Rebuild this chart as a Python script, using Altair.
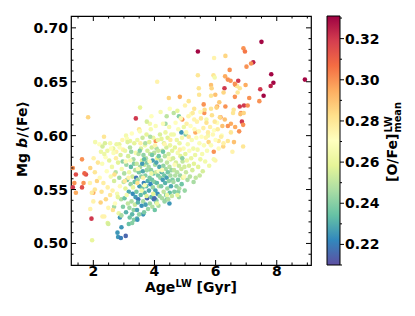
import altair as alt
import pandas as pd

# ---- data: (Age_LW [Gyr], Mgb/<Fe>, [O/Fe]_mean) ----
pts_old_red = [
    (5.42, 0.678, 0.330), (7.50, 0.687, 0.330), (8.92, 0.652, 0.330), (6.91, 0.681, 0.300),
    (6.96, 0.678, 0.305), (7.23, 0.668, 0.325), (7.16, 0.667, 0.300), (7.01, 0.664, 0.300),
    (7.82, 0.657, 0.330), (7.89, 0.649, 0.330), (7.80, 0.646, 0.325), (7.57, 0.637, 0.330),
    (7.46, 0.643, 0.320), (7.43, 0.632, 0.300), (7.10, 0.635, 0.300), (6.98, 0.647, 0.295),
    (6.74, 0.651, 0.320), (6.65, 0.647, 0.300), (6.70, 0.646, 0.280), (6.79, 0.644, 0.280),
    (6.63, 0.636, 0.300), (6.79, 0.627, 0.320), (6.93, 0.628, 0.320), (7.05, 0.628, 0.300),
    (6.83, 0.621, 0.300), (6.86, 0.613, 0.320), (6.77, 0.604, 0.300), (6.32, 0.674, 0.285),
    (6.46, 0.661, 0.300), (6.31, 0.655, 0.295), (6.40, 0.652, 0.300), (6.49, 0.651, 0.300),
    (6.29, 0.644, 0.320), (6.63, 0.648, 0.300), (6.26, 0.640, 0.285), (5.95, 0.672, 0.275),
    (5.42, 0.656, 0.280), (5.93, 0.656, 0.280), (5.97, 0.654, 0.265), (5.85, 0.647, 0.290),
    (5.45, 0.644, 0.280), (5.87, 0.644, 0.285), (5.46, 0.638, 0.280), (5.85, 0.637, 0.280),
    (5.99, 0.638, 0.290), (6.90, 0.610, 0.300), (6.64, 0.608, 0.295), (6.90, 0.590, 0.280),
    (6.50, 0.611, 0.295), (6.81, 0.620, 0.290), (6.92, 0.621, 0.285), (6.59, 0.624, 0.280),
    (6.57, 0.621, 0.280), (6.50, 0.603, 0.280), (6.72, 0.640, 0.280), (5.63, 0.621, 0.300),
    (5.61, 0.629, 0.300), (6.05, 0.627, 0.295), (6.32, 0.627, 0.300), (6.16, 0.617, 0.300),
    (6.40, 0.609, 0.300), (5.94, 0.585, 0.300), (5.99, 0.577, 0.275), (4.91, 0.615, 0.300),
    (5.34, 0.603, 0.295), (6.30, 0.615, 0.290), (6.25, 0.590, 0.285), (6.40, 0.595, 0.280),
    (6.55, 0.585, 0.275), (6.60, 0.594, 0.290),
]
pts_mid_upper = [
    (4.09, 0.650, 0.275), (4.47, 0.635, 0.285), (4.83, 0.636, 0.295), (5.12, 0.632, 0.280),
    (3.53, 0.626, 0.260), (3.39, 0.616, 0.320), (3.50, 0.606, 0.280), (3.07, 0.600, 0.265),
    (3.85, 0.611, 0.265), (4.63, 0.621, 0.250), (4.80, 0.618, 0.240), (4.04, 0.595, 0.300),
    (4.88, 0.603, 0.225), (5.02, 0.601, 0.240), (4.36, 0.611, 0.245), (5.50, 0.622, 0.270),
    (5.70, 0.615, 0.265), (5.85, 0.625, 0.280), (6.05, 0.612, 0.270), (5.30, 0.615, 0.275),
    (5.20, 0.620, 0.270), (5.95, 0.605, 0.270), (6.20, 0.600, 0.270), (6.10, 0.595, 0.280),
    (5.75, 0.600, 0.265), (4.20, 0.622, 0.265), (4.50, 0.625, 0.270), (5.00, 0.628, 0.275),
    (4.75, 0.623, 0.260), (5.30, 0.625, 0.280), (3.90, 0.618, 0.270), (4.40, 0.618, 0.250),
    (3.75, 0.613, 0.255),
]
pts_young_left = [
    (1.83, 0.617, 0.285), (2.35, 0.599, 0.280), (2.06, 0.594, 0.265), (1.63, 0.578, 0.300),
    (2.25, 0.585, 0.262), (2.01, 0.579, 0.275), (2.46, 0.586, 0.262), (2.97, 0.587, 0.275),
    (1.33, 0.570, 0.300), (1.43, 0.564, 0.315), (1.76, 0.564, 0.315), (1.71, 0.565, 0.310),
    (1.38, 0.556, 0.300), (1.33, 0.552, 0.320), (1.43, 0.547, 0.295), (1.94, 0.523, 0.320),
    (1.96, 0.503, 0.260), (1.63, 0.552, 0.315), (1.68, 0.556, 0.300), (2.00, 0.547, 0.295),
    (1.89, 0.556, 0.275), (1.90, 0.532, 0.275), (2.00, 0.539, 0.275), (1.95, 0.547, 0.278),
    (2.30, 0.525, 0.275), (2.36, 0.525, 0.275), (2.47, 0.519, 0.258), (2.68, 0.534, 0.245),
    (2.20, 0.592, 0.270), (2.55, 0.593, 0.265), (2.75, 0.585, 0.275), (2.40, 0.580, 0.270),
    (2.15, 0.575, 0.280), (2.05, 0.566, 0.280), (2.12, 0.558, 0.285), (2.05, 0.550, 0.280),
    (1.90, 0.570, 0.285), (2.30, 0.590, 0.255), (2.85, 0.592, 0.260), (3.20, 0.595, 0.260),
    (2.65, 0.588, 0.260),
]
pts_low_blue = [
    (2.81, 0.506, 0.225), (2.90, 0.505, 0.220), (3.06, 0.507, 0.215), (2.79, 0.510, 0.225),
    (2.92, 0.515, 0.225), (3.16, 0.518, 0.235), (2.87, 0.524, 0.225), (3.43, 0.523, 0.230),
    (3.63, 0.527, 0.225), (4.49, 0.537, 0.225), (4.06, 0.540, 0.240), (4.41, 0.541, 0.240),
    (4.80, 0.543, 0.245), (4.78, 0.548, 0.240), (3.27, 0.519, 0.240), (3.33, 0.522, 0.240),
    (3.44, 0.522, 0.225), (2.49, 0.518, 0.255),
]
pts_core_a = [  # ages 2.2 - 3.0
    (2.21, 0.561, 0.272), (2.27, 0.548, 0.281), (2.29, 0.574, 0.268), (2.33, 0.556, 0.277),
    (2.36, 0.583, 0.262), (2.41, 0.541, 0.284), (2.44, 0.567, 0.270), (2.47, 0.552, 0.276),
    (2.52, 0.577, 0.259), (2.55, 0.545, 0.279), (2.57, 0.562, 0.266), (2.58, 0.588, 0.271),
    (2.24, 0.538, 0.286), (2.49, 0.533, 0.274), (2.38, 0.593, 0.256),
    (2.61, 0.571, 0.263), (2.63, 0.549, 0.275), (2.66, 0.584, 0.268), (2.68, 0.558, 0.255),
    (2.71, 0.537, 0.271), (2.73, 0.566, 0.249), (2.76, 0.592, 0.262), (2.78, 0.546, 0.266),
    (2.81, 0.575, 0.258), (2.83, 0.528, 0.262), (2.85, 0.561, 0.244), (2.87, 0.553, 0.272),
    (2.89, 0.582, 0.256), (2.91, 0.541, 0.248), (2.93, 0.569, 0.265), (2.95, 0.596, 0.274),
    (2.97, 0.534, 0.239), (2.99, 0.557, 0.252), (2.64, 0.531, 0.281), (2.74, 0.579, 0.277),
    (2.86, 0.589, 0.269), (2.92, 0.526, 0.246), (2.69, 0.564, 0.282), (2.80, 0.543, 0.259),
    (2.96, 0.576, 0.242),
]
pts_core_b = [  # ages 3.0 - 3.4
    (3.01, 0.565, 0.247), (3.02, 0.542, 0.236), (3.04, 0.586, 0.262), (3.05, 0.551, 0.258),
    (3.07, 0.529, 0.231), (3.08, 0.573, 0.244), (3.10, 0.597, 0.268), (3.11, 0.559, 0.238),
    (3.13, 0.537, 0.251), (3.14, 0.581, 0.255), (3.16, 0.548, 0.229), (3.17, 0.566, 0.263),
    (3.19, 0.524, 0.236), (3.20, 0.589, 0.249), (3.22, 0.555, 0.242), (3.23, 0.571, 0.233),
    (3.25, 0.539, 0.247), (3.26, 0.602, 0.271), (3.28, 0.562, 0.254), (3.29, 0.546, 0.223),
    (3.31, 0.578, 0.246), (3.32, 0.531, 0.241), (3.34, 0.593, 0.259), (3.35, 0.557, 0.235),
    (3.37, 0.568, 0.248), (3.38, 0.543, 0.226), (3.39, 0.584, 0.266), (3.06, 0.576, 0.272),
    (3.12, 0.594, 0.257), (3.18, 0.533, 0.244), (3.21, 0.577, 0.268), (3.27, 0.527, 0.232),
    (3.30, 0.552, 0.261), (3.33, 0.574, 0.239), (3.36, 0.536, 0.252), (3.15, 0.561, 0.275),
    (3.24, 0.585, 0.243), (3.09, 0.545, 0.266), (3.03, 0.558, 0.279), (3.40, 0.561, 0.218),
]
pts_core_c = [  # ages 3.4 - 3.8
    (3.41, 0.548, 0.237), (3.42, 0.574, 0.252), (3.43, 0.531, 0.228), (3.44, 0.596, 0.263),
    (3.45, 0.559, 0.244), (3.47, 0.541, 0.219), (3.48, 0.583, 0.249), (3.49, 0.566, 0.238),
    (3.50, 0.527, 0.242), (3.51, 0.553, 0.226), (3.52, 0.604, 0.268), (3.53, 0.571, 0.245),
    (3.55, 0.545, 0.233), (3.56, 0.588, 0.256), (3.57, 0.562, 0.241), (3.58, 0.535, 0.224),
    (3.59, 0.577, 0.259), (3.60, 0.551, 0.236), (3.61, 0.598, 0.253), (3.62, 0.567, 0.229),
    (3.63, 0.539, 0.246), (3.64, 0.582, 0.242), (3.65, 0.556, 0.221), (3.66, 0.529, 0.238),
    (3.67, 0.573, 0.251), (3.68, 0.547, 0.232), (3.69, 0.591, 0.264), (3.70, 0.563, 0.240),
    (3.71, 0.536, 0.227), (3.72, 0.579, 0.248), (3.73, 0.553, 0.235), (3.74, 0.601, 0.259),
    (3.75, 0.568, 0.244), (3.76, 0.542, 0.216), (3.77, 0.586, 0.255), (3.78, 0.558, 0.231),
    (3.79, 0.532, 0.243), (3.46, 0.569, 0.272), (3.54, 0.593, 0.276), (3.58, 0.549, 0.264),
    (3.63, 0.561, 0.276), (3.66, 0.578, 0.233), (3.70, 0.593, 0.247), (3.74, 0.544, 0.257),
    (3.46, 0.538, 0.231), (3.52, 0.586, 0.239), (3.60, 0.574, 0.226), (3.68, 0.554, 0.268),
    (3.76, 0.575, 0.238), (3.44, 0.556, 0.282),
]
pts_core_d = [  # ages 3.8 - 4.2
    (3.81, 0.571, 0.246), (3.82, 0.549, 0.229), (3.83, 0.594, 0.258), (3.84, 0.561, 0.238),
    (3.85, 0.537, 0.244), (3.86, 0.583, 0.251), (3.87, 0.555, 0.222), (3.88, 0.606, 0.266),
    (3.89, 0.568, 0.241), (3.90, 0.543, 0.232), (3.91, 0.589, 0.255), (3.92, 0.559, 0.236),
    (3.93, 0.534, 0.248), (3.94, 0.577, 0.227), (3.95, 0.552, 0.243), (3.96, 0.598, 0.261),
    (3.97, 0.565, 0.234), (3.98, 0.541, 0.219), (3.99, 0.584, 0.249), (4.00, 0.557, 0.240),
    (4.01, 0.531, 0.236), (4.02, 0.573, 0.245), (4.03, 0.549, 0.228), (4.04, 0.609, 0.268),
    (4.05, 0.566, 0.253), (4.06, 0.538, 0.241), (4.07, 0.588, 0.247), (4.08, 0.556, 0.233),
    (4.09, 0.579, 0.258), (4.10, 0.546, 0.224), (4.11, 0.596, 0.262), (4.12, 0.563, 0.239),
    (4.13, 0.535, 0.247), (4.14, 0.581, 0.236), (4.15, 0.553, 0.250), (4.16, 0.571, 0.229),
    (4.17, 0.544, 0.244), (4.18, 0.601, 0.256), (4.19, 0.561, 0.242), (3.84, 0.576, 0.272),
    (3.90, 0.565, 0.262), (3.96, 0.546, 0.258), (4.02, 0.591, 0.275), (4.08, 0.537, 0.262),
    (4.14, 0.567, 0.271), (3.86, 0.599, 0.247), (3.92, 0.582, 0.237), (4.00, 0.542, 0.216),
    (4.06, 0.575, 0.228), (4.12, 0.586, 0.252),
]
pts_core_e = [  # ages 4.2 - 4.6
    (4.21, 0.577, 0.247), (4.22, 0.553, 0.238), (4.23, 0.597, 0.259), (4.24, 0.566, 0.232),
    (4.25, 0.542, 0.246), (4.26, 0.586, 0.253), (4.27, 0.559, 0.226), (4.28, 0.611, 0.268),
    (4.29, 0.572, 0.242), (4.30, 0.548, 0.251), (4.31, 0.593, 0.257), (4.32, 0.563, 0.236),
    (4.33, 0.539, 0.243), (4.34, 0.581, 0.249), (4.35, 0.556, 0.231), (4.36, 0.603, 0.262),
    (4.37, 0.569, 0.245), (4.38, 0.545, 0.239), (4.39, 0.589, 0.255), (4.40, 0.561, 0.227),
    (4.41, 0.575, 0.251), (4.42, 0.551, 0.244), (4.43, 0.598, 0.258), (4.44, 0.566, 0.237),
    (4.45, 0.541, 0.248), (4.46, 0.583, 0.254), (4.47, 0.558, 0.241), (4.48, 0.608, 0.266),
    (4.49, 0.571, 0.249), (4.50, 0.547, 0.234), (4.51, 0.591, 0.261), (4.52, 0.563, 0.246),
    (4.53, 0.578, 0.256), (4.54, 0.553, 0.229), (4.55, 0.601, 0.264), (4.56, 0.568, 0.243),
    (4.57, 0.544, 0.252), (4.58, 0.586, 0.258), (4.59, 0.559, 0.239), (4.25, 0.568, 0.272),
    (4.33, 0.592, 0.274), (4.41, 0.545, 0.262), (4.47, 0.579, 0.272), (4.52, 0.596, 0.277),
    (4.28, 0.585, 0.235),
]
pts_core_f = [  # ages 4.6 - 5.0
    (4.61, 0.579, 0.255), (4.62, 0.557, 0.245), (4.63, 0.601, 0.264), (4.64, 0.568, 0.251),
    (4.65, 0.548, 0.239), (4.67, 0.589, 0.259), (4.68, 0.563, 0.248), (4.69, 0.612, 0.271),
    (4.70, 0.575, 0.256), (4.72, 0.553, 0.242), (4.73, 0.596, 0.262), (4.74, 0.566, 0.249),
    (4.76, 0.584, 0.266), (4.77, 0.559, 0.238), (4.78, 0.606, 0.268), (4.80, 0.572, 0.253),
    (4.81, 0.551, 0.247), (4.82, 0.593, 0.261), (4.84, 0.563, 0.244), (4.85, 0.581, 0.258),
    (4.86, 0.616, 0.273), (4.88, 0.569, 0.254), (4.89, 0.555, 0.236), (4.90, 0.598, 0.265),
    (4.92, 0.576, 0.251), (4.93, 0.561, 0.259), (4.95, 0.588, 0.268), (4.96, 0.608, 0.262),
    (4.98, 0.571, 0.255), (4.99, 0.549, 0.243), (4.66, 0.573, 0.272), (4.75, 0.545, 0.260),
    (4.83, 0.587, 0.276), (4.91, 0.579, 0.241), (4.97, 0.562, 0.272),
]
pts_core_g = [  # ages 5.0 - 6.3
    (5.01, 0.583, 0.259), (5.03, 0.566, 0.252), (5.04, 0.603, 0.268), (5.06, 0.577, 0.263),
    (5.08, 0.559, 0.246), (5.09, 0.592, 0.266), (5.11, 0.618, 0.274), (5.13, 0.572, 0.256),
    (5.14, 0.586, 0.269), (5.16, 0.562, 0.249), (5.18, 0.609, 0.271), (5.20, 0.579, 0.261),
    (5.22, 0.596, 0.267), (5.24, 0.568, 0.255), (5.25, 0.621, 0.278), (5.27, 0.588, 0.264),
    (5.29, 0.574, 0.258), (5.31, 0.606, 0.272), (5.33, 0.582, 0.262), (5.35, 0.561, 0.251),
    (5.37, 0.598, 0.269), (5.39, 0.613, 0.275), (5.12, 0.599, 0.281), (5.28, 0.557, 0.246),
    (5.05, 0.611, 0.276),
    (5.41, 0.587, 0.265), (5.43, 0.571, 0.258), (5.45, 0.604, 0.272), (5.47, 0.593, 0.268),
    (5.50, 0.578, 0.262), (5.52, 0.616, 0.279), (5.54, 0.599, 0.270), (5.56, 0.583, 0.266),
    (5.58, 0.567, 0.255), (5.60, 0.607, 0.276), (5.62, 0.591, 0.268), (5.64, 0.624, 0.283),
    (5.66, 0.576, 0.264), (5.68, 0.598, 0.274), (5.70, 0.612, 0.281), (5.72, 0.586, 0.267),
    (5.75, 0.603, 0.277), (5.77, 0.594, 0.285), (5.48, 0.563, 0.252), (5.79, 0.572, 0.263),
    (5.82, 0.608, 0.276), (5.85, 0.591, 0.268), (5.88, 0.619, 0.282), (5.91, 0.601, 0.273),
    (5.94, 0.578, 0.266), (5.97, 0.613, 0.279), (6.00, 0.596, 0.271), (6.03, 0.626, 0.286),
    (6.07, 0.606, 0.278), (6.10, 0.588, 0.272), (6.14, 0.617, 0.284), (6.18, 0.599, 0.277),
    (6.22, 0.609, 0.290), (6.26, 0.593, 0.276), (6.12, 0.631, 0.288),
]

# ---- axes / colour bar settings ----
x_domain = [1.27, 9.12]
y_domain = [0.48, 0.711]
c_domain = [0.21, 0.331]
x_major = [2, 4, 6, 8]
x_minor = [1.5, 2.5, 3.0, 3.5, 4.5, 5.0, 5.5, 6.5, 7.0, 7.5, 8.5, 9.0]
y_major = [0.50, 0.55, 0.60, 0.65, 0.70]
y_minor = [0.49, 0.51, 0.52, 0.53, 0.54, 0.56, 0.57, 0.58, 0.59,
           0.61, 0.62, 0.63, 0.64, 0.66, 0.67, 0.68, 0.69]
c_major = [0.22, 0.24, 0.26, 0.28, 0.30, 0.32]
c_minor = [0.21, 0.23, 0.25, 0.27, 0.29, 0.31, 0.33]
spectral_r = ["#5e4fa2", "#3288bd", "#66c2a5", "#abdda4", "#e6f598", "#ffffbf",
              "#fee08b", "#fdae61", "#f46d43", "#d53e4f", "#9e0142"]

W, H = 240, 249
FONT = "DejaVu Sans"
FS = 14

rows = (pts_old_red + pts_mid_upper + pts_young_left + pts_low_blue + pts_core_a +
        pts_core_b + pts_core_c + pts_core_d + pts_core_e + pts_core_f + pts_core_g)
df = pd.DataFrame(rows, columns=["age", "mgb", "ofe"])

n = len(spectral_r)
c_stops = [c_domain[0] + (c_domain[1] - c_domain[0]) * i / (n - 1) for i in range(n)]

xs = alt.Scale(domain=x_domain, nice=False, zero=False)
ys = alt.Scale(domain=y_domain, nice=False, zero=False)
cs = alt.Scale(domain=c_domain, nice=False, zero=False)

points = alt.Chart(df).mark_circle(size=21, opacity=1).encode(
    x=alt.X("age:Q", scale=xs, axis=None),
    y=alt.Y("mgb:Q", scale=ys, axis=None),
    color=alt.Color("ofe:Q", legend=None,
                    scale=alt.Scale(domain=c_stops, range=spectral_r, interpolate="rgb")),
)


def xticks(vals, length):
    d = pd.DataFrame({"v": vals})
    base = alt.Chart(d).mark_rule(color="black", strokeWidth=1)
    b = base.encode(x=alt.X("v:Q", scale=xs, axis=None), y=alt.value(H), y2=alt.value(H - length))
    t = base.encode(x=alt.X("v:Q", scale=xs, axis=None), y=alt.value(0), y2=alt.value(length))
    return [b, t]


def yticks(vals, length):
    d = pd.DataFrame({"v": vals})
    base = alt.Chart(d).mark_rule(color="black", strokeWidth=1)
    l = base.encode(y=alt.Y("v:Q", scale=ys, axis=None), x=alt.value(0), x2=alt.value(length))
    r = base.encode(y=alt.Y("v:Q", scale=ys, axis=None), x=alt.value(W), x2=alt.value(W - length))
    return [l, r]


# tick labels as text through the scales
x_labels = alt.Chart(pd.DataFrame({"v": x_major})).mark_text(
    font=FONT, fontSize=FS, fontWeight="bold", align="center", baseline="alphabetic", color="black"
).encode(x=alt.X("v:Q", scale=xs, axis=None), y=alt.value(H + 11), text=alt.Text("v:Q", format="d"))

y_labels = alt.Chart(pd.DataFrame({"v": y_major})).mark_text(
    font=FONT, fontSize=FS, fontWeight="bold", align="right", baseline="alphabetic", dy=5,
    color="black"
).encode(y=alt.Y("v:Q", scale=ys, axis=None), x=alt.value(-3), text=alt.Text("v:Q", format=".2f"))

one = pd.DataFrame({"a": [0]})


def txt(s, x, y, size=FS, angle=0, style="normal", align="left"):
    return alt.Chart(one).mark_text(
        text=s, font=FONT, fontSize=size, fontWeight="bold", fontStyle=style,
        angle=angle, align=align, baseline="alphabetic", color="black"
    ).encode(x=alt.value(x), y=alt.value(y))


# x title: Age^LW [Gyr]
xt_y = 276
titles = [
    txt("Age", 74, xt_y),
    txt("LW", 104.5, xt_y - 5.5, size=9.8),
    txt("[Gyr]", 125.6, xt_y),
    # y title: Mg b/<Fe>  (rotated)
    txt("Mg", -44, 161, angle=270),
    txt("b", -44, 132, angle=270, style="italic"),
    txt("/\u27e8Fe\u27e9", -44, 121.5, angle=270),
]

main = alt.layer(points, *xticks(x_major, 5), *xticks(x_minor, 2.5),
                 *yticks(y_major, 5), *yticks(y_minor, 2.5), x_labels, y_labels, *titles)

# ---- colour bar ----
cb = pd.DataFrame({"lo": [c_domain[0]], "hi": [c_domain[1]]})
grad = alt.LinearGradient(
    gradient="linear",
    stops=[alt.GradientStop(color=c, offset=i / (n - 1)) for i, c in enumerate(spectral_r)],
    x1=0, x2=0, y1=1, y2=0,
)
cx0, cx1 = W + 16, W + 29
cbar_rect = alt.Chart(cb).mark_rect(fill=grad, stroke="black", strokeWidth=1).encode(
    y=alt.Y("lo:Q", scale=cs, axis=None),
    y2="hi:Q",
    x=alt.value(cx0), x2=alt.value(cx1),
)


def cticks(vals, length):
    d = pd.DataFrame({"v": vals})
    return alt.Chart(d).mark_rule(color="black", strokeWidth=1).encode(
        y=alt.Y("v:Q", scale=cs, axis=None), x=alt.value(cx1), x2=alt.value(cx1 + length))


c_labels = alt.Chart(pd.DataFrame({"v": c_major})).mark_text(
    font=FONT, fontSize=FS, fontWeight="bold", align="left", baseline="alphabetic", dy=5,
    color="black"
).encode(y=alt.Y("v:Q", scale=cs, axis=None), x=alt.value(cx1 + 5),
         text=alt.Text("v:Q", format=".2f"))

ctitle = [
    txt("[O/Fe]", 326, 166, angle=270),
    txt("LW", 321, 116.5, size=9.8, angle=270),
    txt("mean", 330, 116.5, size=9.8, angle=270),
]

cbar = alt.layer(cbar_rect, cticks(c_major, 4), cticks(c_minor, 2), c_labels, *ctitle)

chart = alt.layer(main, cbar).resolve_scale(y="independent").properties(
    width=W, height=H,
    padding={"left": 63, "top": 8, "right": 96, "bottom": 43},
    autosize="none",
).configure_view(stroke="black", strokeWidth=1.2)

chart.save("out.html", embed_options={"renderer": "svg", "actions": False})
